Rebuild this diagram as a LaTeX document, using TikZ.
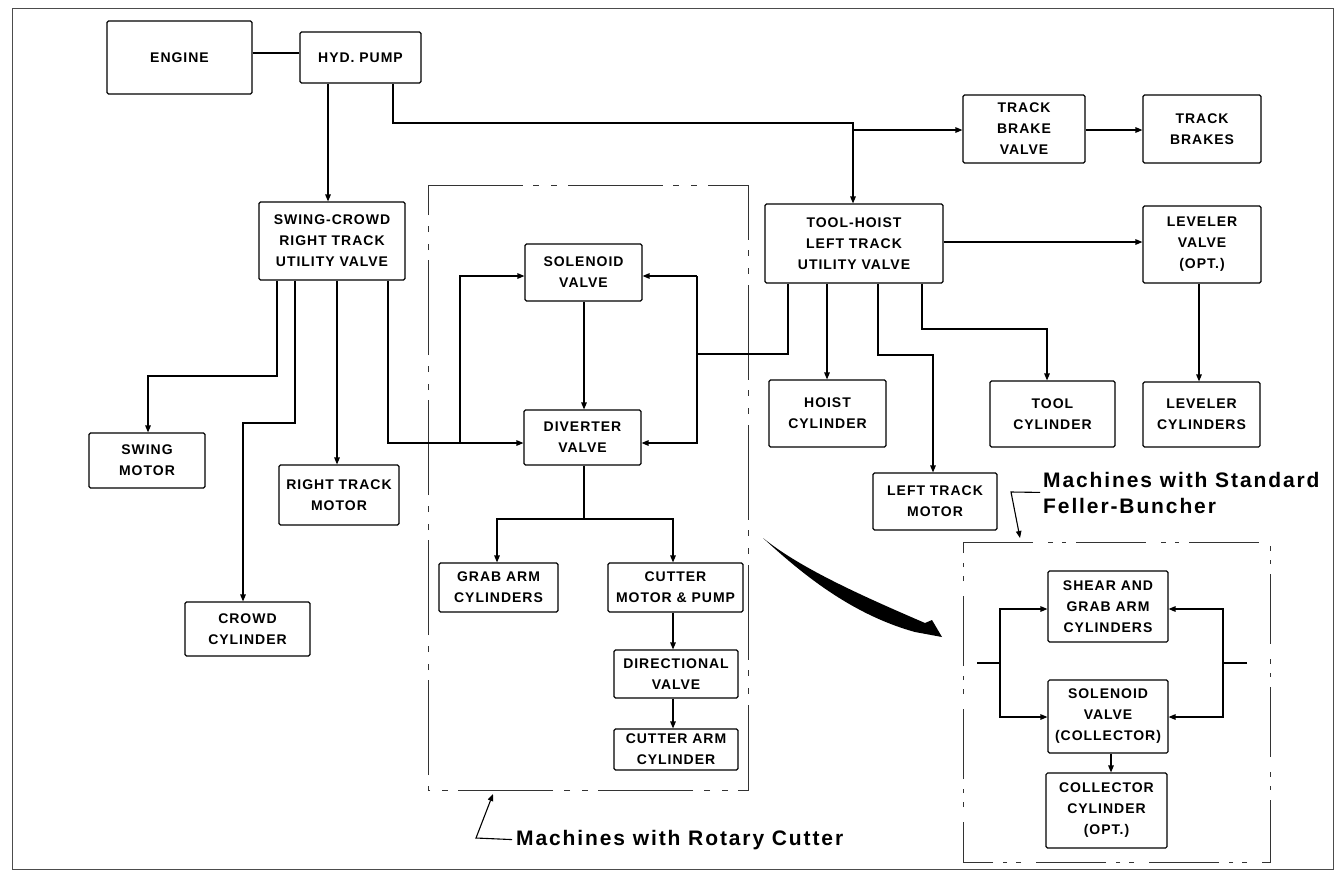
\documentclass[tikz,border=0pt]{standalone}
\usepackage{fontspec}
\setmainfont{Liberation Sans}
\newfontfamily\boxfont{Liberation Sans}[LetterSpace=7]
\newfontfamily\lblfont{Liberation Sans}[LetterSpace=9]
\usetikzlibrary{arrows.meta}
\begin{document}
\begin{tikzpicture}[x=1pt,y=-1pt,
  box/.style={draw, line width=1.1pt, rounded corners=1.5pt, inner sep=0pt, align=center,
    font=\boxfont\bfseries\fontsize{14}{21}\selectfont},
  ln/.style={line width=1.3pt},
  arr/.style={ln, -{Triangle[length=7pt,width=5.5pt]}},
  grp/.style={line width=0.9pt, black!80},
  lbl/.style={font=\lblfont\bfseries\fontsize{21}{26}\selectfont, inner sep=0pt, anchor=base west}]
\fill[white] (0,0) rectangle (1340,873);
\useasboundingbox (0,0) rectangle (1340,873);
\draw[line width=0.8pt, black!70] (12,8) rectangle (1333,869);

% group boxes
\draw[grp, dash pattern=on 95pt off 10pt on 6pt off 12pt on 6pt off 11pt]
  (428,185) -- (748,185) -- (748,790) -- (428,790) -- cycle;
\draw[grp, dash pattern=on 70pt off 15pt on 5pt off 9pt on 4pt off 10pt]
  (963,542) -- (1270,542) -- (1270,862) -- (963,862) -- cycle;

% nodes
\node[box,minimum width=145,minimum height=73] (engine) at (179.5,57.5) {ENGINE};
\node[box,minimum width=121,minimum height=51] (pump) at (360.5,57.5) {HYD. PUMP};
\node[box,minimum width=146,minimum height=78] (swc) at (332,241) {SWING-CROWD\\RIGHT TRACK\\UTILITY VALVE};
\node[box,minimum width=178,minimum height=79] (thv) at (854,243.5) {TOOL-HOIST\\LEFT TRACK\\UTILITY VALVE};
\node[box,minimum width=122,minimum height=68] (tbv) at (1024,129) {TRACK\\BRAKE\\VALVE};
\node[box,minimum width=118,minimum height=68] (tb) at (1202,129) {TRACK\\BRAKES};
\node[box,minimum width=118,minimum height=77] (lv) at (1202,244.5) {LEVELER\\VALVE\\(OPT.)};
\node[box,minimum width=117,minimum height=65] (lc) at (1201.5,414.5) {LEVELER\\CYLINDERS};
\node[box,minimum width=117,minimum height=67] (hc) at (827.5,413.5) {HOIST\\CYLINDER};
\node[box,minimum width=125,minimum height=66] (tc) at (1052.5,414) {TOOL\\CYLINDER};
\node[box,minimum width=124,minimum height=57] (ltm) at (935,501.5) {LEFT TRACK\\MOTOR};
\node[box,minimum width=116,minimum height=55] (sm) at (147,460.5) {SWING\\MOTOR};
\node[box,minimum width=120,minimum height=60] (rtm) at (339,495) {RIGHT TRACK\\MOTOR};
\node[box,minimum width=125,minimum height=54] (cc) at (247.5,629) {CROWD\\CYLINDER};
\node[box,minimum width=117,minimum height=57] (sol) at (583.5,272.5) {SOLENOID\\VALVE};
\node[box,minimum width=117,minimum height=55] (div) at (582.5,437.5) {DIVERTER\\VALVE};
\node[box,minimum width=119,minimum height=49] (gac) at (498.5,587.5) {GRAB ARM\\CYLINDERS};
\node[box,minimum width=135,minimum height=49] (cmp) at (675.5,587.5) {CUTTER\\MOTOR \& PUMP};
\node[box,minimum width=124,minimum height=48] (dv) at (676,674) {DIRECTIONAL\\VALVE};
\node[box,minimum width=124,minimum height=41] (cac) at (676,749.5) {CUTTER ARM\\CYLINDER};
\node[box,minimum width=120,minimum height=71] (sgc) at (1108,606.5) {SHEAR AND\\GRAB ARM\\CYLINDERS};
\node[box,minimum width=120,minimum height=73] (svc) at (1108,716.5) {SOLENOID\\VALVE\\(COLLECTOR)};
\node[box,minimum width=121,minimum height=75] (ccyl) at (1106.5,810.5) {COLLECTOR\\CYLINDER\\(OPT.)};

% labels
\node[lbl] (rotlbl) at (516,845) {Machines with Rotary Cutter};
\node[lbl] (fb1) at (1043,487) {Machines with Standard};
\node[lbl] (fb2) at (1043,513) {Feller-Buncher};

% junction coordinates
\coordinate (j1) at (853,123);
\coordinate (j2) at (853,130);
\coordinate (k1) at (697,354);
\coordinate (k2) at (697,276);
\coordinate (o1) at (460,443);
\coordinate (q1) at (584,519);
\coordinate (fl) at (977,663);
\coordinate (flj) at (1000,663);
\coordinate (fr) at (1247,663);
\coordinate (frj) at (1223,663);
\coordinate (rc1) at (476,838);
\coordinate (rc2) at (493,794);
\coordinate (fc1) at (1011,492);
\coordinate (fc2) at (1020,538);

% connectors
\draw[ln] (engine.east |- 0,53) -- (pump.west |- 0,53);
\draw[arr] (pump.south -| 328,0) -- (swc.north -| 328,0);
\draw[arr] (pump.south -| 393,0) |- (j1) -- (thv.north -| j1);
\draw[arr] (j2) -- (tbv.west |- j2);
\draw[arr] (tbv.east |- j2) -- (tb.west |- j2);
\draw[arr] (thv.east |- 0,242) -- (lv.west |- 0,242);
\draw[arr] (lv.south -| 1199,0) -- (lc.north -| 1199,0);
\draw[arr] (thv.south -| 827,0) -- (hc.north -| 827,0);
\draw[arr] (thv.south -| 878,0) |- (933,355) -- (ltm.north -| 933,0);
\draw[arr] (thv.south -| 922,0) |- (1047,329) -- (tc.north -| 1047,0);
\draw[ln] (thv.south -| 788,0) |- (k1) -- (k2);
\draw[arr] (k2) -- (sol.east |- k2);
\draw[arr] (k2) |- (div.east |- 0,443);
\draw[arr] (swc.south -| 277,0) |- (148,376) -- (sm.north -| 148,0);
\draw[arr] (swc.south -| 295,0) |- (243,423) -- (cc.north -| 243,0);
\draw[arr] (swc.south -| 337,0) -- (rtm.north -| 337,0);
\draw[arr] (swc.south -| 388,0) |- (div.west |- o1);
\draw[arr] (o1) |- (sol.west |- 0,276);
\draw[arr] (sol.south -| 584,0) -- (div.north -| 584,0);
\draw[ln] (div.south -| q1) -- (q1);
\draw[arr] (q1) -| (gac.north -| 497,0);
\draw[arr] (q1) -| (cmp.north -| 673,0);
\draw[arr] (cmp.south -| 673,0) -- (dv.north -| 673,0);
\draw[arr] (dv.south -| 673,0) -- (cac.north -| 673,0);
\draw[ln] (fl) -- (flj);
\draw[arr] (flj) |- (sgc.west |- 0,609);
\draw[arr] (flj) |- (svc.west |- 0,717);
\draw[ln] (fr) -- (frj);
\draw[arr] (frj) |- (sgc.east |- 0,609);
\draw[arr] (frj) |- (svc.east |- 0,717);
\draw[arr] (svc.south -| 1111,0) -- (ccyl.north -| 1111,0);

% label leaders
\draw[arr, line width=1.1pt] ([xshift=-4pt]rotlbl.west) -- (rc1) -- (rc2);
\draw[arr, line width=1.1pt] ([xshift=-3pt,yshift=-5pt]fb1.south west) -- (fc1) -- (fc2);

% swoosh arrow
\fill (763,538) .. controls (800,568) and (860,595) .. (925,623) -- (932,620) -- (942,637)
  -- (915,632) .. controls (850,614) and (800,572) .. (763,538) -- cycle;
\end{tikzpicture}
\end{document}
